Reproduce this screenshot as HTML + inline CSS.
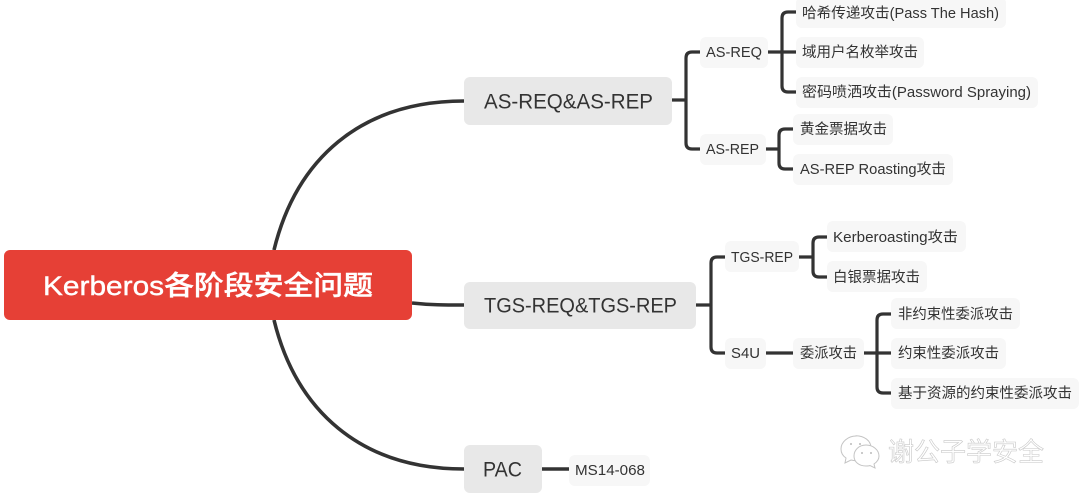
<!DOCTYPE html>
<html><head><meta charset="utf-8"><style>
html,body{margin:0;padding:0;background:#fff}
svg{display:block}
text{font-family:"Liberation Sans","Noto Sans CJK SC",sans-serif;fill:#333;dominant-baseline:central;text-anchor:start}
.s{font-size:14.5px}
.b{font-size:21px}
</style></head><body>
<svg width="1080" height="499" viewBox="0 0 1080 499" xmlns="http://www.w3.org/2000/svg">
<g fill="none" stroke="#333" stroke-width="3.6">
<path d="M274,250C296,160 360,101 464,101"/>
<path d="M274,320C296,410 360,469 464,469"/>
<path d="M412,303C430,305 445,305 464,305"/>
<path d="M542,469H569"/>
<g stroke-width="3.2">
<path d="M672,100H686M700,52H692Q686,52 686,58V143Q686,149 692,149H700"/>
<path d="M768,52H796M796,12H788Q782,12 782,18V86Q782,92 788,92H796"/>
<path d="M766,149H779M793,129H785Q779,129 779,135V163Q779,169 785,169H793"/>
<path d="M696,305H711M725,257H717Q711,257 711,263V347Q711,353 717,353H725"/>
<path d="M799,257H813M827,237H819Q813,237 813,243V271Q813,277 819,277H827"/>
<path d="M766,353H793"/>
<path d="M864,353H891M891,314H883Q877,314 877,320V387Q877,393 883,393H891"/>
</g></g>
<rect x="4" y="250" width="408" height="70" rx="6" fill="#e64036"/>
<text x="43" y="286" font-size="27" style="fill:#fff;font-weight:500;stroke:#fff;stroke-width:.4" textLength="330" lengthAdjust="spacingAndGlyphs">Kerberos各阶段安全问题</text>
<g fill="#e8e8e8">
<rect x="464" y="77" width="208" height="48" rx="6"/>
<rect x="464" y="282" width="232" height="47" rx="6"/>
<rect x="464" y="445" width="78" height="48" rx="6"/>
</g>
<text class="b" x="484" y="102" textLength="169" lengthAdjust="spacingAndGlyphs">AS-REQ&amp;AS-REP</text>
<text class="b" x="484" y="306" textLength="193" lengthAdjust="spacingAndGlyphs">TGS-REQ&amp;TGS-REP</text>
<text class="b" x="483" y="470" textLength="39" lengthAdjust="spacingAndGlyphs">PAC</text>
<g fill="#f7f7f7">
<rect x="700" y="37" width="68" height="31" rx="6"/>
<rect x="700" y="134" width="66" height="31" rx="6"/>
<rect x="796" y="-3" width="210" height="31" rx="6"/>
<rect x="796" y="37" width="128" height="31" rx="6"/>
<rect x="796" y="77" width="242" height="31" rx="6"/>
<rect x="793" y="114" width="100" height="31" rx="6"/>
<rect x="793" y="154" width="160" height="31" rx="6"/>
<rect x="725" y="241" width="74" height="31" rx="6"/>
<rect x="827" y="221" width="139" height="31" rx="6"/>
<rect x="827" y="261" width="100" height="31" rx="6"/>
<rect x="725" y="338" width="41" height="31" rx="6"/>
<rect x="793" y="338" width="71" height="31" rx="6"/>
<rect x="891" y="298" width="129" height="31" rx="6"/>
<rect x="891" y="338" width="115" height="31" rx="6"/>
<rect x="891" y="378" width="188" height="31" rx="6"/>
<rect x="569" y="455" width="81" height="31" rx="6"/>
</g>
<g class="s">
<text class="s" x="706" y="53" textLength="56" lengthAdjust="spacingAndGlyphs">AS-REQ</text>
<text class="s" x="706" y="150" textLength="53" lengthAdjust="spacingAndGlyphs">AS-REP</text>
<text class="s" x="802" y="14" textLength="197" lengthAdjust="spacingAndGlyphs">哈希传递攻击(Pass The Hash)</text>
<text class="s" x="802" y="53" textLength="116" lengthAdjust="spacingAndGlyphs">域用户名枚举攻击</text>
<text class="s" x="802" y="93" textLength="229" lengthAdjust="spacingAndGlyphs">密码喷洒攻击(Password Spraying)</text>
<text class="s" x="800" y="130" textLength="87" lengthAdjust="spacingAndGlyphs">黄金票据攻击</text>
<text class="s" x="800" y="170" textLength="146" lengthAdjust="spacingAndGlyphs">AS-REP Roasting攻击</text>
<text class="s" x="731" y="258" textLength="62" lengthAdjust="spacingAndGlyphs">TGS-REP</text>
<text class="s" x="833" y="238" textLength="125" lengthAdjust="spacingAndGlyphs">Kerberoasting攻击</text>
<text class="s" x="833" y="278" textLength="87" lengthAdjust="spacingAndGlyphs">白银票据攻击</text>
<text class="s" x="731" y="354" textLength="29" lengthAdjust="spacingAndGlyphs">S4U</text>
<text class="s" x="800" y="354" textLength="57" lengthAdjust="spacingAndGlyphs">委派攻击</text>
<text class="s" x="898" y="315" textLength="115" lengthAdjust="spacingAndGlyphs">非约束性委派攻击</text>
<text class="s" x="898" y="354" textLength="101" lengthAdjust="spacingAndGlyphs">约束性委派攻击</text>
<text class="s" x="898" y="394" textLength="174" lengthAdjust="spacingAndGlyphs">基于资源的约束性委派攻击</text>
<text class="s" x="575" y="471" textLength="70" lengthAdjust="spacingAndGlyphs">MS14-068</text>
</g>
<g fill="#fff" stroke="#c4c4c4" stroke-width="1">
<path d="M856,436c-8,0-15,6-15,13c0,4,2,7,5,9l-1,5l6-3c2,.5,3,.7,5,.7c8,0,15-6,15-13s-7-12-15-12z"/>
<path d="M866,445c-7,0-12,5-12,11s5,10,12,10c1.500,0,3,0,4-.5l5,2.500l-1-4c3-2,5-5,5-8c0-6-6-11-13-11z"/>
</g>
<g fill="#bbb"><circle cx="851" cy="444" r="1"/><circle cx="860" cy="444" r="1"/><circle cx="862" cy="453" r="1"/><circle cx="871" cy="453" r="1"/></g>
<text x="888" y="452" font-size="26" textLength="156" lengthAdjust="spacingAndGlyphs" style="fill:#fff;stroke:#c8c8c8;stroke-width:.6">谢公子学安全</text>
</svg>
</body></html>
